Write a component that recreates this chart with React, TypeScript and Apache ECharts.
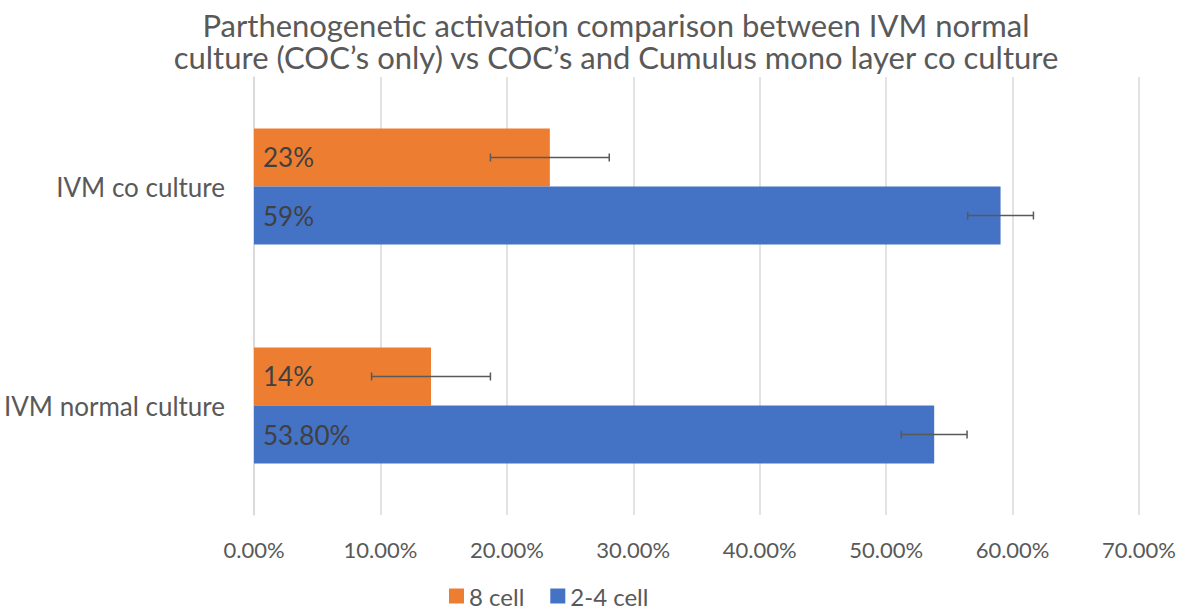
import React, { useEffect, useRef } from "react";
import * as echarts from "echarts";

const titleLines = [
  "Parthenogenetic activation comparison between IVM normal",
  "culture (COC’s only) vs COC’s and Cumulus mono layer co culture",
];
const categories = ["IVM normal culture", "IVM co culture"];
const seriesNames = ["8 cell", "2-4 cell"];
const cell8 = [14.0, 23.4];
const cell24 = [53.8, 59.05];
const cell8Err = [4.7, 4.7];
const cell24Err = [2.6, 2.6];
const cell8Labels = ["14%", "23%"];
const cell24Labels = ["53.80%", "59%"];
const xMin = 0;
const xMax = 70;
const xStep = 10;

const FONT = "Lato";
const GAP = 0.47;

export default function App() {
  const ref = useRef<HTMLDivElement>(null);
  useEffect(() => {
    if (!ref.current) return;
    const chart = echarts.init(ref.current, null, { renderer: "svg" });
    const errData: any[] = [];
    cell8.forEach((v, i) => errData.push([i, v, cell8Err[i], -1]));
    cell24.forEach((v, i) => errData.push([i, v, cell24Err[i], 1]));
    const titleTops = [9, 41];
    const option: any = {
      animation: false,
      backgroundColor: "#ffffff",
      textStyle: { fontFamily: FONT },
      title: titleLines.map((t, i) => ({
        text: t,
        left: 616,
        top: titleTops[i],
        padding: 0,
        textAlign: "center",
        textStyle: {
          fontFamily: FONT,
          fontSize: 31,
          fontWeight: "normal",
          color: "#595959",
          lineHeight: 31,
        },
      })),
      legend: {
        data: seriesNames,
        left: 449,
        top: 584,
        padding: 0,
        itemWidth: 15,
        itemHeight: 15,
        itemGap: 26,
        icon: "rect",
        textStyle: { fontFamily: FONT, fontSize: 24, color: "#595959", padding: [0, 0, 0, 0] },
      },
      grid: { left: 254, right: 42, top: 77, bottom: 94, containLabel: false },
      xAxis: {
        type: "value",
        min: xMin,
        max: xMax,
        interval: xStep,
        axisLine: { show: false },
        axisTick: { show: false },
        splitLine: { show: true, lineStyle: { color: "#d9d9d9", width: 1.5 } },
        axisLabel: {
          color: "#595959",
          fontFamily: FONT,
          fontSize: 22,
          margin: 23,
          formatter: (v: number) => v.toFixed(2) + "%",
        },
      },
      yAxis: {
        type: "category",
        data: categories,
        axisLine: { show: true, lineStyle: { color: "#d9d9d9", width: 1.5 } },
        axisTick: { show: false },
        axisLabel: { color: "#595959", fontFamily: FONT, fontSize: 26, margin: 29 },
      },
      series: [
        {
          name: "8 cell",
          type: "bar",
          data: cell8,
          barGap: "0%",
          barCategoryGap: GAP * 100 + "%",
          itemStyle: { color: "#ED7D31" },
          label: {
            show: true,
            position: "insideLeft",
            distance: 9,
            color: "#404040",
            fontFamily: FONT,
            fontSize: 26,
            formatter: (p: any) => cell8Labels[p.dataIndex],
          },
          z: 2,
        },
        {
          name: "2-4 cell",
          type: "bar",
          data: cell24,
          barGap: "0%",
          barCategoryGap: GAP * 100 + "%",
          itemStyle: { color: "#4472C4" },
          label: {
            show: true,
            position: "insideLeft",
            distance: 9,
            color: "#404040",
            fontFamily: FONT,
            fontSize: 26,
            formatter: (p: any) => cell24Labels[p.dataIndex],
          },
          z: 2,
        },
        {
          name: "errors",
          type: "custom",
          data: errData,
          encode: { x: 1, y: 0 },
          z: 5,
          silent: true,
          renderItem: (params: any, api: any) => {
            const cat = api.value(0);
            const val = api.value(1);
            const err = api.value(2);
            const side = api.value(3);
            const c = api.coord([val, cat]);
            const band = api.size([0, 1])[1];
            const w = (band * (1 - GAP)) / 2;
            const y = c[1] + (side * w) / 2;
            const x1 = api.coord([val - err, cat])[0];
            const x2 = api.coord([val + err, cat])[0];
            const st = { stroke: "#595959", lineWidth: 1.5 };
            const h = 4;
            return {
              type: "group",
              children: [
                { type: "line", shape: { x1, y1: y, x2, y2: y }, style: st },
                { type: "line", shape: { x1, y1: y - h, x2: x1, y2: y + h }, style: st },
                { type: "line", shape: { x1: x2, y1: y - h, x2, y2: y + h }, style: st },
              ],
            };
          },
        },
      ],
    };
    chart.setOption(option);
    return () => chart.dispose();
  }, []);
  return (
    <div
      ref={ref}
      style={{ position: "fixed", left: 0, top: 0, width: 1181, height: 609 }}
    />
  );
}
